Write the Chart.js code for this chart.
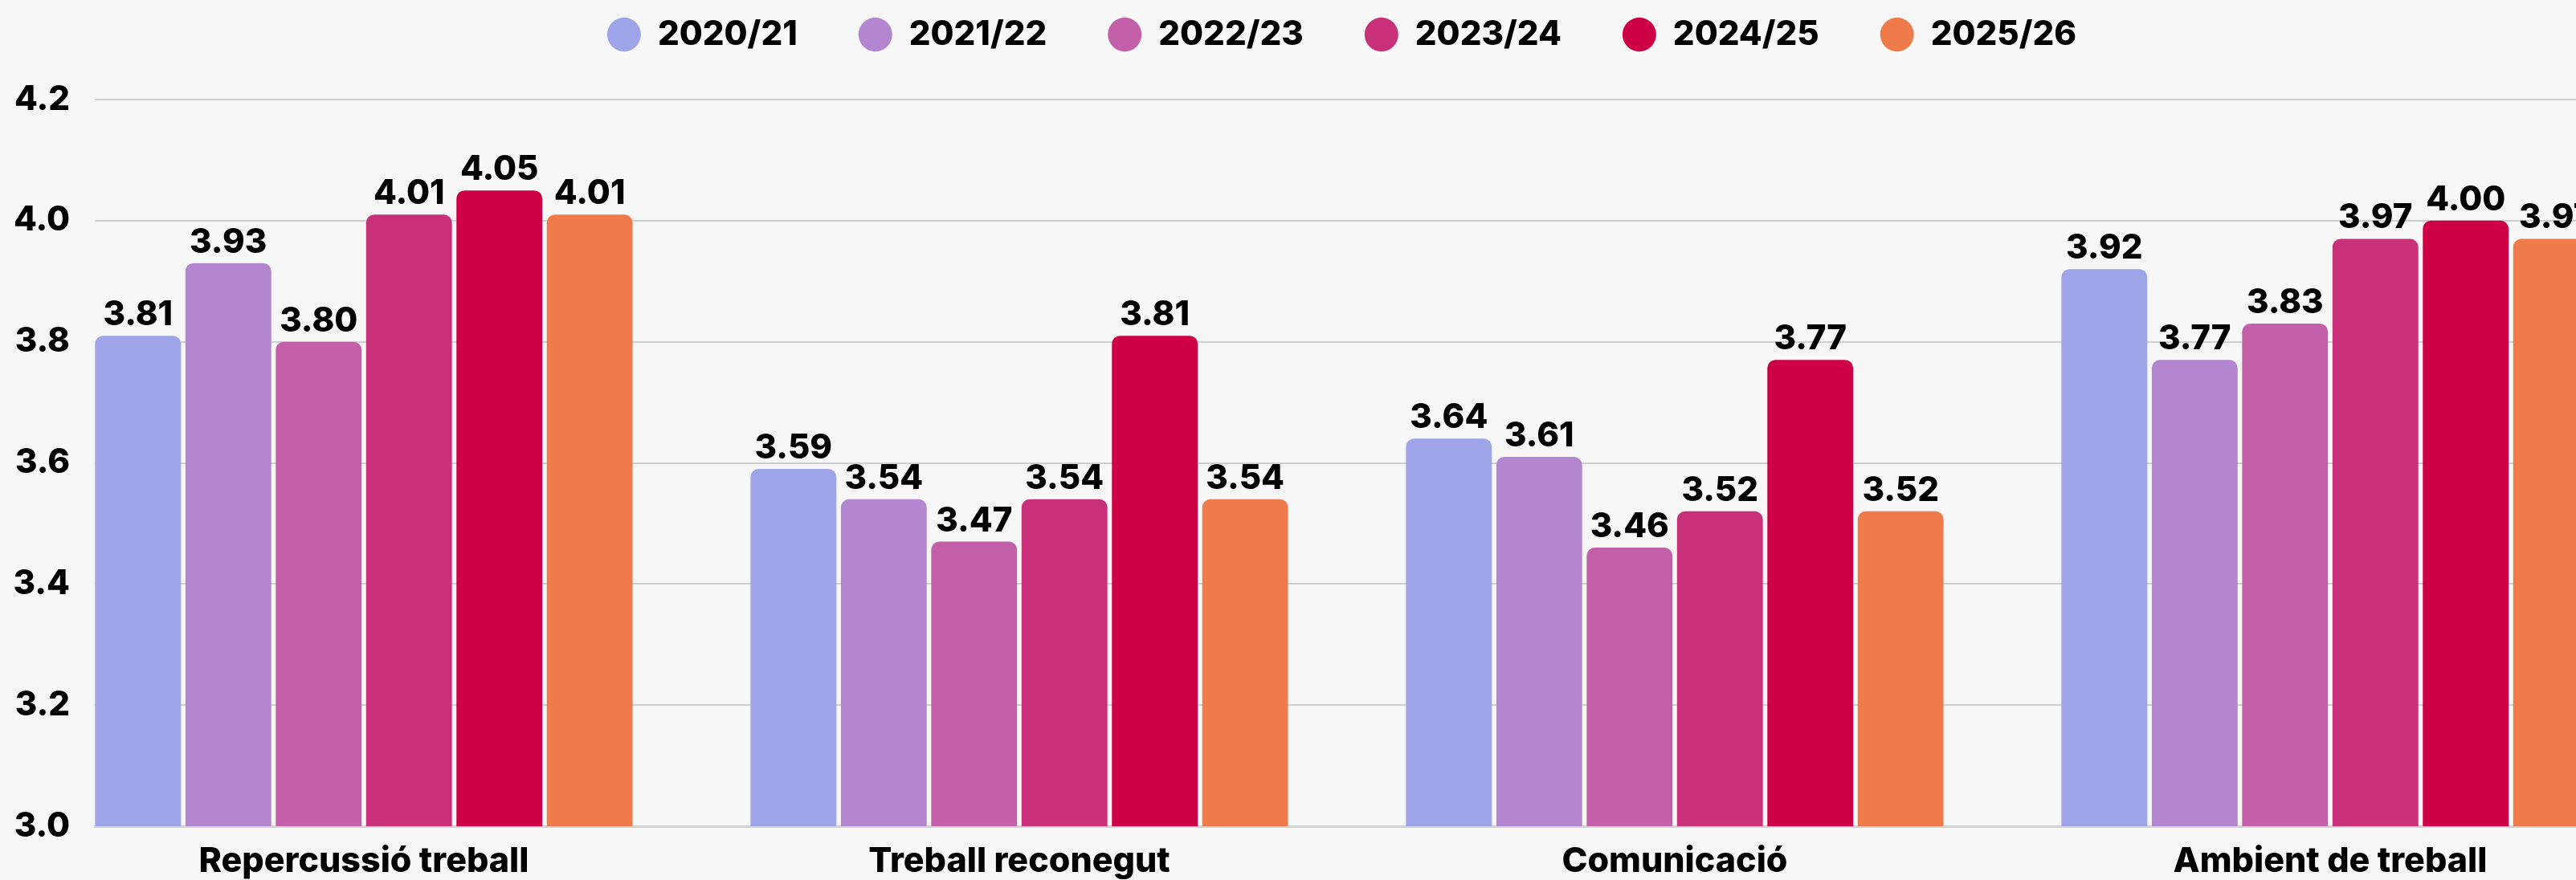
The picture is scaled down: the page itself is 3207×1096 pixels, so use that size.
<!DOCTYPE html>
<html>
<head>
<meta charset="utf-8">
<title>Valoració per curs</title>
<script src="https://cdn.jsdelivr.net/npm/chart.js@4.4.1/dist/chart.umd.min.js"></script>
<style>
  html, body { margin: 0; padding: 0; background: #f7f7f7; overflow: hidden; }
  #wrap { width: 3366px; height: 1096px; }
</style>
</head>
<body>
<div id="wrap"><canvas id="canvas-1"></canvas></div>
<script>
// categories and seasons
var categories = ['Repercussió treball', 'Treball reconegut', 'Comunicació', 'Ambient de treball'];
var seasons = ['2020/21', '2021/22', '2022/23', '2023/24', '2024/25', '2025/26'];

// values per season, in category order
var values2021 = [3.81, 3.59, 3.64, 3.92];
var values2122 = [3.93, 3.54, 3.61, 3.77];
var values2223 = [3.80, 3.47, 3.46, 3.83];
var values2324 = [4.01, 3.54, 3.52, 3.97];
var values2425 = [4.05, 3.81, 3.77, 4.00];
var values2526 = [4.01, 3.54, 3.52, 3.97];

var yTicks = [3.0, 3.2, 3.4, 3.6, 3.8, 4.0, 4.2];

var seriesValues = [values2021, values2122, values2223, values2324, values2425, values2526];
var colors = ['#9da5e8', '#b485d0', '#c45faa', '#c9307a', '#cd0046', '#f07b4a'];

Chart.defaults.font.family = 'Inter, "Noto Sans", sans-serif';
Chart.defaults.font.weight = '800';
Chart.defaults.color = '#000';

// labels on top of each bar
var valueLabels = {
    id: 'valueLabels',
    afterDatasetsDraw: function(chart) {
        var ctx = chart.ctx;
        ctx.save();
        ctx.font = '800 42px Inter, "Noto Sans", sans-serif';
        ctx.fillStyle = '#000';
        ctx.textAlign = 'center';
        ctx.textBaseline = 'alphabetic';
        chart.data.datasets.forEach(function(ds, i) {
            chart.getDatasetMeta(i).data.forEach(function(bar, j) {
                ctx.fillText(ds.data[j].y.toFixed(2), bar.x, bar.y - 13);
            });
        });
        ctx.restore();
    }
};

// keep the wide legend spacing without a tall legend box
var legendHeight = {
    id: 'legendHeight',
    beforeInit: function(chart) {
        var fit = chart.legend.fit;
        chart.legend.fit = function() {
            fit.call(this);
            this.height = 178;
        };
    }
};

var datasets = seasons.map(function(s, i) {
    return {
        label: s,
        data: seriesValues[i].map(function(v, j) { return {x: j, y: v}; }),
        backgroundColor: colors[i],
        borderRadius: 10,
        borderSkipped: 'bottom',
        categoryPercentage: 0.827,
        barPercentage: 0.95
    };
});

var barChart = new Chart(document.getElementById('canvas-1'), {
    type: 'bar',
    data: { datasets: datasets },
    plugins: [valueLabels, legendHeight],
    options: {
        responsive: true,
        maintainAspectRatio: false,
        animation: false,
        layout: { padding: { top: -54, right: 25, left: 0, bottom: 0 } },
        plugins: {
            legend: {
                labels: {
                    usePointStyle: true,
                    pointStyle: 'circle',
                    boxHeight: 30,
                    pointStyleWidth: 42,
                    padding: 76,
                    font: { size: 42, weight: '800' }
                }
            },
            tooltip: { enabled: false }
        },
        scales: {
            x: {
                type: 'linear',
                offset: false,
                min: -0.4105,
                max: 3.5392,
                afterBuildTicks: function(scale) {
                    scale.ticks = categories.map(function(c, i) { return {value: i}; });
                },
                afterFit: function(scale) { scale.height = 67; },
                ticks: {
                    autoSkip: false,
                    maxRotation: 0,
                    padding: 18,
                    font: { size: 43, weight: '800' },
                    callback: function(v) { return categories[v]; }
                },
                grid: { display: false, drawTicks: false },
                border: { display: true, color: '#d3d3d3', width: 3 }
            },
            y: {
                min: 3.0,
                max: 4.2,
                afterBuildTicks: function(scale) {
                    scale.ticks = yTicks.map(function(v) { return {value: v}; });
                },
                afterFit: function(scale) { scale.width = 118; },
                ticks: {
                    padding: 31,
                    font: { size: 42, weight: '800' },
                    callback: function(v) { return v.toFixed(1); }
                },
                grid: { color: '#cfcfcf', lineWidth: 2, drawTicks: false },
                border: { display: false }
            }
        }
    }
});
</script>
</body>
</html>
